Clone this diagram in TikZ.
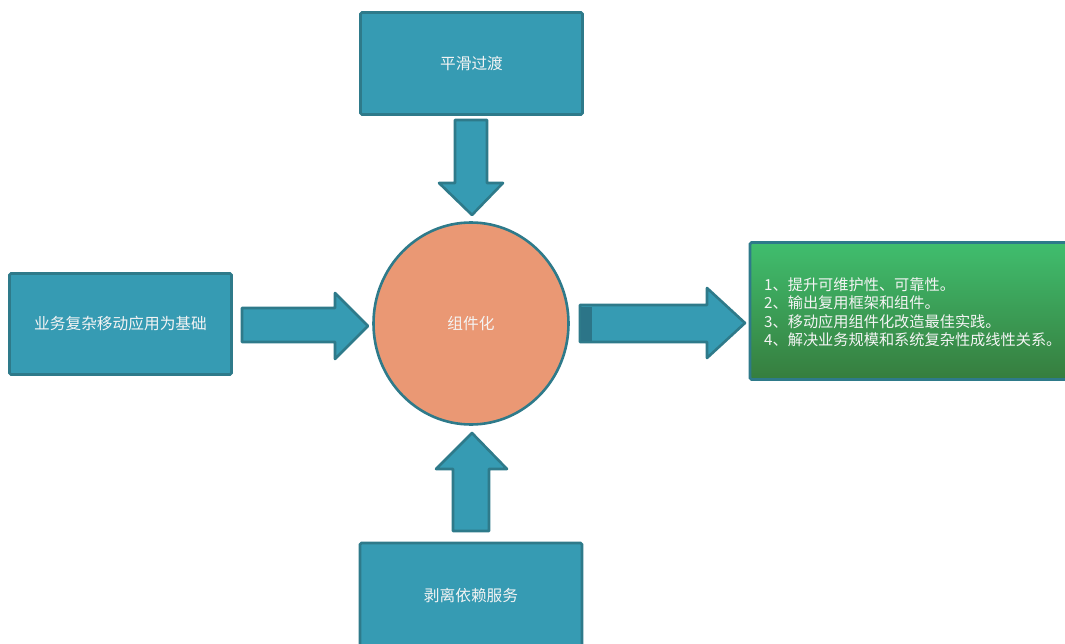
\documentclass[tikz,border=0pt]{standalone}
\usepackage{fontspec}
\setmainfont{Noto Sans CJK SC}
\usetikzlibrary{shapes.geometric}
\definecolor{tealfill}{HTML}{369BB3}
\definecolor{tealline}{HTML}{2E7A8A}
\definecolor{tealdark}{HTML}{2C7588}
\definecolor{salmon}{HTML}{EA9874}
\definecolor{gtop}{HTML}{40BE6E}
\definecolor{gbot}{HTML}{367D3E}
\definecolor{txt}{HTML}{F4F4F4}
\tikzset{
  tbox/.style={draw=tealline, fill=tealfill, line width=2.6pt, rounded corners=1.5pt,
    minimum width=222pt, inner sep=0pt, text=txt, font=\fontsize{15.7}{18}\selectfont},
  blockarrow/.style={draw=tealline, fill=tealfill, line width=2.6pt, line join=round},
}
\begin{document}
\begin{tikzpicture}[x=1pt,y=-1pt]
\useasboundingbox (0,0) rectangle (1065,644);
% boxes
\node[tbox, minimum height=102pt] (topbox) at (471.5,63.5) {平滑过渡};
\node[tbox, minimum height=101pt] (leftbox) at (120.5,324) {业务复杂移动应用为基础};
\node[tbox, minimum height=105pt] (botbox) at (471,595.5) {剥离依赖服务};
\node[ellipse, draw=tealline, fill=salmon, line width=2.6pt, minimum width=195pt,
  minimum height=202pt, inner sep=0pt, text=txt, font=\fontsize{15.7}{18}\selectfont]
  (core) at (471,323.5) {组件化};
\node[draw=tealline, line width=2.6pt, top color=gtop, bottom color=gbot,
  minimum width=322pt, minimum height=137pt, inner sep=0pt, rounded corners=1.5pt]
  (result) at (911,311) {};
\node[anchor=west, align=left, inner sep=0pt, text=txt,
  font=\fontsize{15.2}{18.5}\selectfont] (resulttext) at (764,312.5)
  {1、提升可维护性、可靠性。\\2、输出复用框架和组件。\\3、移动应用组件化改造最佳实践。\\4、解决业务规模和系统复杂性成线性关系。};
% block arrows
\draw[blockarrow] (455,120) -- (487,120) -- (487,183) -- (503,183) -- (472,215)
  -- (439,183) -- (455,183) -- cycle;
\draw[blockarrow] (242,308) -- (335,308) -- (335,293) -- (368,326) -- (335,359)
  -- (335,342) -- (242,342) -- cycle;
\draw[blockarrow] (453,531) -- (453,469) -- (436,469) -- (472,433) -- (507,469)
  -- (489,469) -- (489,531) -- cycle;
\draw[blockarrow] (580,305) -- (707,305) -- (707,288) -- (745,323) -- (707,358)
  -- (707,342) -- (580,342) -- cycle;
\fill[tealdark] (581,306.5) rectangle (592,340.5);
\end{tikzpicture}
\end{document}
